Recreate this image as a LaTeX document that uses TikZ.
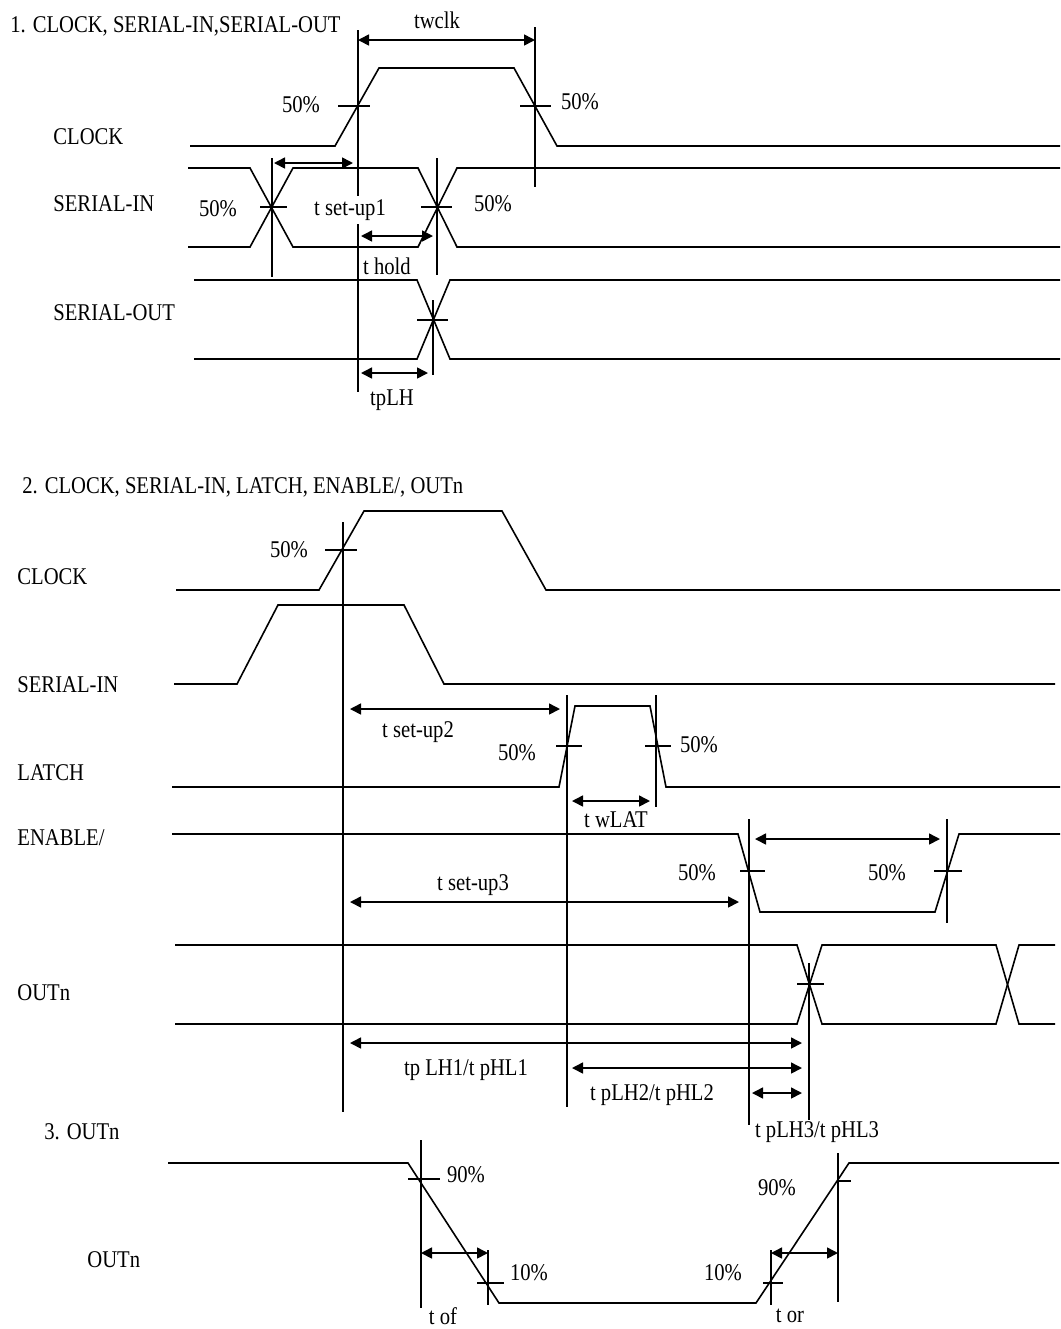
\documentclass[tikz,border=0pt]{standalone}
\usepackage{fontspec}
\setmainfont{Liberation Serif}[FakeStretch=0.86]
\usepackage{tikz}
\usetikzlibrary{arrows.meta}

\tikzset{
  wave/.style={line width=0.8pt},
  mark line/.style={line width=0.7pt},
  dimarrow/.style={line width=0.8pt, {Triangle[length=5.5pt,width=5.5pt]}-{Triangle[length=5.5pt,width=5.5pt]}},
  lbl/.style={font=\fontsize{12}{13}\selectfont, inner sep=0pt},
  sig/.style={lbl, anchor=west}
}

\begin{document}
\begin{tikzpicture}[x=0.5pt,y=-0.5pt]
  \useasboundingbox (0,0) rectangle (1061,1329);

  % ---- 1. clock / serial-in / serial-out
  \node[sig, name=t1] at (10,26) {1. CLOCK, SERIAL-IN,SERIAL-OUT};
  \node[sig, name=clk1] at (53,137) {CLOCK};
  \node[sig, name=sin1] at (53,204) {SERIAL-IN};
  \node[sig, name=sout1] at (53,313) {SERIAL-OUT};

  \draw[wave] (190,146) -- (335,146) -- (379,68) -- (514,68) -- (557,146) -- (1060,146);
  \draw[wave] (188,168) -- (250,168) -- (293,247) -- (418,247) -- (457,168) -- (1060,168);
  \draw[wave] (188,247) -- (250,247) -- (293,168) -- (418,168) -- (457,247) -- (1060,247);
  \draw[wave] (194,280) -- (417,280) -- (450,359) -- (1060,359);
  \draw[wave] (194,359) -- (417,359) -- (450,280) -- (1060,280);

  \draw[mark line] (358,30) -- (358,392);
  \draw[mark line] (535,27) -- (535,187);
  \draw[mark line] (272,158) -- (272,277);
  \draw[mark line] (437,158) -- (437,275);
  \draw[mark line] (433,300) -- (433,375);
  \draw[mark line] (338,106) -- (370,106);
  \draw[mark line] (520,106) -- (551,106);
  \draw[mark line] (260,207) -- (287,207);
  \draw[mark line] (421,207) -- (452,207);
  \draw[mark line] (417,320) -- (448,320);

  \draw[dimarrow] (358,40) -- (535,40);
  \draw[dimarrow] (274,163) -- (353,163);
  \draw[dimarrow] (361,236) -- (433,236);
  \draw[dimarrow] (361,373) -- (428,373);

  \node[lbl, name=twclk] at (437,20) {twclk};
  \node[lbl, name=p1a] at (301,105) {50\%};
  \node[lbl, name=p1b] at (580,102) {50\%};
  \node[lbl, name=p1c] at (218,209) {50\%};
  \node[lbl, name=p1d] at (493,204) {50\%};
  \node[lbl, name=tsu1, fill=white, inner sep=2pt] at (350,210) {t set-up1};
  \node[lbl, name=thold] at (387,266) {t hold};
  \node[lbl, name=tplh] at (392,400) {tpLH};

  % ---- 2. clock / serial-in / latch / enable / outn
  \node[sig, name=t2] at (22,487) {2. CLOCK, SERIAL-IN, LATCH, ENABLE/, OUTn};
  \node[sig, name=clk2] at (17,577) {CLOCK};
  \node[sig, name=sin2] at (17,685) {SERIAL-IN};
  \node[sig, name=lat2] at (17,773) {LATCH};
  \node[sig, name=en2] at (17,838) {ENABLE/};
  \node[sig, name=out2] at (17,993) {OUTn};

  \draw[wave] (176,590) -- (319,590) -- (364,511) -- (502,511) -- (546,590) -- (1060,590);
  \draw[wave] (174,684) -- (237,684) -- (278,605) -- (404,605) -- (444,684) -- (1055,684);
  \draw[wave] (172,787) -- (559,787) -- (575,706) -- (650,706) -- (666,787) -- (1060,787);
  \draw[wave] (172,834) -- (738,834) -- (760,912) -- (935,912) -- (959,834) -- (1060,834);
  \draw[wave] (175,945) -- (797,945) -- (822,1024) -- (996,1024) -- (1019,945) -- (1055,945);
  \draw[wave] (175,1024) -- (797,1024) -- (822,945) -- (996,945) -- (1019,1024) -- (1055,1024);

  \draw[mark line] (343,522) -- (343,1112);
  \draw[mark line] (567,695) -- (567,1107);
  \draw[mark line] (656,695) -- (656,807);
  \draw[mark line] (749,819) -- (749,1125);
  \draw[mark line] (947,819) -- (947,923);
  \draw[mark line] (809,963) -- (809,1120);
  \draw[mark line] (325,550) -- (357,550);
  \draw[mark line] (556,746) -- (582,746);
  \draw[mark line] (645,746) -- (671,746);
  \draw[mark line] (740,871) -- (765,871);
  \draw[mark line] (934,871) -- (962,871);
  \draw[mark line] (797,984) -- (824,984);

  \draw[dimarrow] (350,709) -- (560,709);
  \draw[dimarrow] (572,801) -- (650,801);
  \draw[dimarrow] (755,839) -- (940,839);
  \draw[dimarrow] (350,902) -- (739,902);
  \draw[dimarrow] (350,1043) -- (802,1043);
  \draw[dimarrow] (572,1068) -- (802,1068);
  \draw[dimarrow] (752,1093) -- (802,1093);

  \node[lbl, name=p2a] at (289,550) {50\%};
  \node[lbl, name=p2b] at (517,753) {50\%};
  \node[lbl, name=p2c] at (699,745) {50\%};
  \node[lbl, name=p2d] at (697,873) {50\%};
  \node[lbl, name=p2e] at (887,873) {50\%};
  \node[lbl, name=tsu2] at (418,732) {t set-up2};
  \node[lbl, name=twlat] at (616,820) {t wLAT};
  \node[lbl, name=tsu3] at (473,885) {t set-up3};
  \node[lbl, name=tp1] at (466,1070) {tp LH1/t pHL1};
  \node[lbl, name=tp2] at (652,1095) {t pLH2/t pHL2};
  \node[lbl, name=tp3] at (817,1132) {t pLH3/t pHL3};

  % ---- 3. outn rise / fall
  \node[sig, name=t3] at (44,1132) {3. OUTn};
  \node[sig, name=out3] at (87,1260) {OUTn};

  \draw[wave] (168,1163) -- (408,1163) -- (499,1303) -- (756,1303) -- (849,1163) -- (1059,1163);

  \draw[mark line] (421,1140) -- (421,1308);
  \draw[mark line] (488,1250) -- (488,1305);
  \draw[mark line] (771,1250) -- (771,1305);
  \draw[mark line] (838,1153) -- (838,1302);
  \draw[mark line] (408,1179) -- (440,1179);
  \draw[mark line] (477,1283) -- (504,1283);
  \draw[mark line] (763,1283) -- (783,1283);
  \draw[mark line] (839,1181) -- (851,1181);

  \draw[dimarrow] (421,1253) -- (488,1253);
  \draw[dimarrow] (771,1253) -- (838,1253);

  \node[lbl, name=p3a] at (466,1175) {90\%};
  \node[lbl, name=p3b] at (529,1273) {10\%};
  \node[lbl, name=p3c] at (723,1273) {10\%};
  \node[lbl, name=p3d] at (777,1188) {90\%};
  \node[lbl, name=tof] at (443,1316) {t of};
  \node[lbl, name=tor] at (790,1316) {t or};
\end{tikzpicture}
\end{document}
